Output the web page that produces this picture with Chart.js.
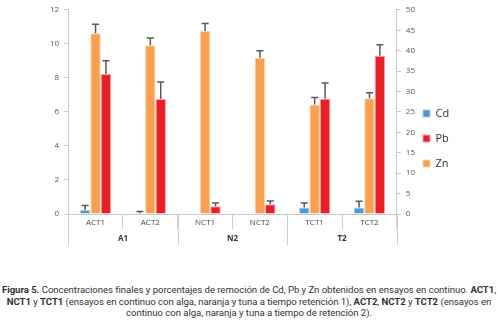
<!DOCTYPE html>
<html>
<head>
<meta charset="utf-8">
<script src="https://cdn.jsdelivr.net/npm/chart.js@4.4.1/dist/chart.umd.min.js"></script>
<style>
  html,body{margin:0;padding:0;background:#fff;}
  #wrap{position:relative;width:498px;height:324px;overflow:hidden;}
  #c{position:absolute;left:0;top:0;}
  #cap{position:absolute;left:0;top:284px;width:498px;text-align:center;white-space:nowrap;
       font-family:"Roboto",sans-serif;font-size:9.6px;line-height:11.5px;color:#333;letter-spacing:-0.05px;}
</style>
</head>
<body>
<div id="wrap">
<canvas id="c" width="498" height="262"></canvas>
<div id="cap"><b>Figura 5.</b> Concentraciones finales y porcentajes de remoción de Cd, Pb y Zn obtenidos en ensayos en continuo. <b>ACT1</b>,<br><b>NCT1</b> y <b>TCT1</b> (ensayos en continuo con alga, naranja y tuna a tiempo retención 1), <b>ACT2</b>, <b>NCT2</b> y <b>TCT2</b> (ensayos en<br>continuo con alga, naranja y tuna a tiempo de retención 2).</div>
</div>
<script>
const categories = ["ACT1","ACT2","NCT1","NCT2","TCT1","TCT2"];
const groups = ["A1","N2","T2"];
const cdValues = [0.23, 0.05, 0.02, 0.03, 0.38, 0.38];
const cdErrors = [0.27, 0.10, 0.00, 0.00, 0.26, 0.37];
const znValues = [10.62, 9.92, 10.75, 9.18, 6.43, 6.80];
const znErrors = [0.53, 0.42, 0.45, 0.41, 0.41, 0.32];
const pbValues = [8.22, 6.76, 0.46, 0.58, 6.78, 9.30];
const pbErrors = [0.78, 1.00, 0.18, 0.18, 0.92, 0.64];
const leftTicks = [0, 2, 4, 6, 8, 10, 12];
const rightTicks = [0, 5, 10, 15, 20, 25, 30, 35, 40, 45, 50];
const legendOrder = ["Cd", "Pb", "Zn"];

const errorBars = {
  id: 'errorBars',
  afterDatasetsDraw(chart) {
    const ctx = chart.ctx;
    const y = chart.scales.y;
    ctx.save();
    ctx.strokeStyle = '#5a5a5a';
    ctx.lineWidth = 1.5;
    chart.data.datasets.forEach((ds, di) => {
      const meta = chart.getDatasetMeta(di);
      meta.data.forEach((bar, i) => {
        const err = ds.errors[i];
        if (!err) return;
        const top = y.getPixelForValue(ds.data[i] + err);
        const base = y.getPixelForValue(ds.data[i]);
        ctx.beginPath();
        ctx.moveTo(bar.x, base);
        ctx.lineTo(bar.x, top);
        ctx.moveTo(bar.x - 3.5, top);
        ctx.lineTo(bar.x + 3.5, top);
        ctx.stroke();
      });
    });
    ctx.restore();
  }
};

const groupAxis = {
  id: 'groupAxis',
  afterLayout(chart) {
    const L = chart.legend;
    if (!L) return;
    const w = L.right - L.left;
    L.left = 409; L.right = 409 + w;
    const h = L.bottom - L.top;
    L.top = 94; L.bottom = 94 + h;
  },
  afterDraw(chart) {
    const ctx = chart.ctx;
    const x = chart.scales.x;
    const area = chart.chartArea;
    const step = x.getPixelForValue(1) - x.getPixelForValue(0);
    ctx.save();
    ctx.strokeStyle = '#d0d0d0';
    ctx.lineWidth = 1;
    for (let g = 0; g <= groups.length; g++) {
      const px = Math.round(x.getPixelForValue(g * 2) - step / 2) + 0.5;
      ctx.beginPath();
      ctx.moveTo(px, area.bottom);
      ctx.lineTo(px, area.bottom + 31);
      ctx.stroke();
    }
    ctx.fillStyle = '#333';
    ctx.font = 'bold 8px "Open Sans", sans-serif';
    ctx.textAlign = 'center';
    ctx.textBaseline = 'middle';
    groups.forEach((g, gi) => {
      const cx = (x.getPixelForValue(gi * 2) + x.getPixelForValue(gi * 2 + 1)) / 2;
      ctx.fillText(g, cx, area.bottom + 25);
    });
    ctx.restore();
  }
};

new Chart(document.getElementById('c'), {
  type: 'bar',
  data: {
    labels: categories,
    datasets: [
      {label: 'Cd', data: cdValues, errors: cdErrors, backgroundColor: '#4a97d3', borderColor: '#a9cde9', borderWidth: 1},
      {label: 'Zn', data: znValues, errors: znErrors, backgroundColor: '#f9a04c', borderColor: '#fcd2ab', borderWidth: 1},
      {label: 'Pb', data: pbValues, errors: pbErrors, backgroundColor: '#ee1c25', borderColor: '#f6a3a6', borderWidth: 1}
    ]
  },
  options: {
    responsive: false,
    animation: false,
    layout: {padding: {left: 45, right: 0, top: 5, bottom: 8}},
    datasets: {bar: {barPercentage: 1.0, categoryPercentage: 0.57}},
    plugins: {
      tooltip: {enabled: false},
      legend: {
        position: 'right',
        align: 'start',
        labels: {
          boxWidth: 7, boxHeight: 7, padding: 14,
          color: '#333',
          font: {family: '"Open Sans", sans-serif', size: 11},
          sort: (a, b) => legendOrder.indexOf(a.text) - legendOrder.indexOf(b.text)
        }
      }
    },
    scales: {
      x: {
        afterFit: s => { s.height = 40; },
        grid: {drawOnChartArea: false, offset: true, color: '#d0d0d0', tickLength: 15},
        border: {color: '#c8c8c8'},
        ticks: {color: '#444', font: {family: '"Open Sans", sans-serif', size: 8}, padding: -11}
      },
      y: {
        min: 0, max: 12,
        afterBuildTicks: s => { s.ticks = leftTicks.map(v => ({value: v})); },
        grid: {drawOnChartArea: false, color: '#c8c8c8', tickLength: 4},
        border: {color: '#c8c8c8'},
        ticks: {color: '#555', font: {family: '"Open Sans", sans-serif', size: 8}, padding: 5}
      },
      y2: {
        position: 'right',
        min: 0, max: 50,
        afterBuildTicks: s => { s.ticks = rightTicks.map(v => ({value: v})); },
        afterFit: s => { s.width = 51; },
        grid: {drawOnChartArea: false, color: '#c8c8c8', tickLength: 4},
        border: {color: '#c8c8c8'},
        ticks: {color: '#555', font: {family: '"Open Sans", sans-serif', size: 8}, padding: 5}
      }
    }
  },
  plugins: [errorBars, groupAxis]
});
</script>
</body>
</html>
